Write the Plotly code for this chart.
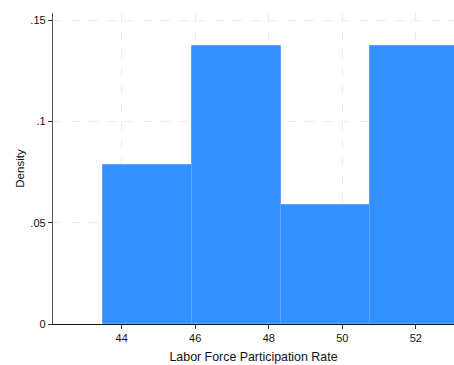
import plotly.graph_objects as go

bin_left_edges = [43.5, 45.92, 48.34, 50.76]
bin_width = 2.42
densities = [0.0783, 0.1375, 0.0589, 0.1375]

x_ticks = [44, 46, 48, 50, 52]
y_ticks = [0, 0.05, 0.1, 0.15]
y_tick_labels = ["0", ".05", ".1", ".15"]

centers = [e + bin_width / 2 for e in bin_left_edges]

fig = go.Figure()
fig.add_trace(go.Bar(
    x=centers, y=densities, width=[bin_width] * len(centers),
    marker=dict(color="#3391FF", line=dict(color="#5CA6FF", width=1)),
    showlegend=False,
))

font_family = "Liberation Sans, Arial, sans-serif"
fig.update_layout(
    width=454, height=365,
    margin=dict(l=53, r=0, t=13, b=41),
    paper_bgcolor="white", plot_bgcolor="white",
    bargap=0,
    font=dict(family=font_family, color="#111", size=11),
    xaxis=dict(
        range=[42.13, 53.04],
        tickvals=x_ticks, ticks="outside", ticklen=4, tickcolor="#333",
        showgrid=True, gridcolor="#ECECEC", griddash="dash", gridwidth=1,
        showline=True, linecolor="#111", linewidth=1.3,
        zeroline=False,
        title=dict(text="Labor Force Participation Rate", font=dict(size=12.4), standoff=8),
        tickfont=dict(size=11),
    ),
    yaxis=dict(
        range=[0, 0.1536],
        tickvals=y_ticks, ticktext=y_tick_labels,
        ticks="outside", ticklen=4, tickcolor="#333",
        showgrid=True, gridcolor="#ECECEC", griddash="dash", gridwidth=1,
        showline=True, linecolor="#555", linewidth=1.3,
        zeroline=False,
        title=dict(text="Density", font=dict(size=11.5), standoff=3),
        tickfont=dict(size=11),
    ),
)

fig.write_html(
    "out.html",
    config={"displayModeBar": False},
    post_script="document.body.style.margin='0';document.body.style.overflow='hidden';",
)
